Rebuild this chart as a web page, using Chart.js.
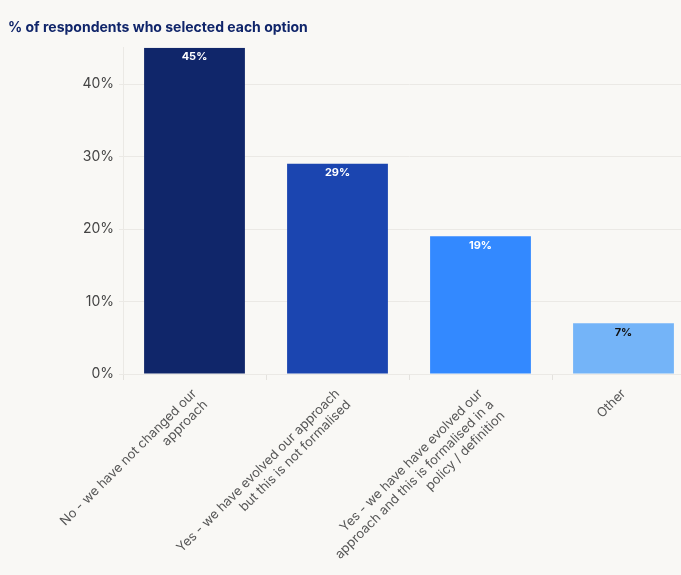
<!DOCTYPE html>
<html>
<head>
<meta charset="utf-8">
<script src="https://cdn.jsdelivr.net/npm/chart.js@4"></script>
<style>
    html, body { margin: 0; padding: 0; background: #f9f8f5; overflow: hidden; }
    .chart-wrap { position: relative; width: 700px; height: 575px; }
</style>
</head>
<body>
<div class="chart-wrap"><canvas id="optionsChart"></canvas></div>
<script>
const categories = [
    ["No - we have not changed our", "approach"],
    ["Yes - we have evolved our approach", "but this is not formalised"],
    ["Yes - we have have evolved our", "approach and this is formalised in a", "policy / definition"],
    "Other"
];
const shares = [45, 29, 19, 7];
const barColors = ["#10266a", "#1b45b0", "#3389ff", "#74b4f8"];
const labelColors = ["#ffffff", "#ffffff", "#ffffff", "#111111"];
const yTicks = [0, 10, 20, 30, 40];

// writes the value at the top of each bar
const barValueLabels = {
    id: "barValueLabels",
    afterDatasetsDraw(chart) {
        const ctx = chart.ctx;
        const meta = chart.getDatasetMeta(0);
        ctx.save();
        ctx.font = "bold 11px Inter";
        ctx.textAlign = "center";
        ctx.textBaseline = "middle";
        meta.data.forEach((bar, i) => {
            ctx.fillStyle = labelColors[i];
            ctx.fillText(shares[i] + "%", bar.x, bar.y + 9);
        });
        ctx.restore();
    }
};

const ctxBar = document.getElementById("optionsChart");
new Chart(ctxBar, {
    type: "bar",
    data: {
        labels: categories,
        datasets: [{
            data: shares,
            backgroundColor: barColors,
            borderWidth: 0,
            categoryPercentage: 1,
            barPercentage: 0.705
        }]
    },
    options: {
        responsive: true,
        maintainAspectRatio: false,
        animation: false,
        layout: { padding: { left: 8, right: 5, top: 0, bottom: 0 } },
        plugins: {
            legend: { display: false },
            tooltip: { enabled: false },
            title: {
                display: true,
                text: "% of respondents who selected each option",
                align: "start",
                color: "#10256a",
                font: { family: "Inter", size: 14, weight: "bold" },
                padding: { top: 19, bottom: 12 }
            }
        },
        scales: {
            x: {
                grid: { display: true, drawOnChartArea: false, tickLength: 6, color: "#e4e2de" },
                border: { display: false },
                ticks: {
                    color: "#555555",
                    font: { family: "Inter", size: 13 },
                    minRotation: 45,
                    maxRotation: 45,
                    autoSkip: false,
                    padding: 6
                },
                afterFit: (scale) => { scale.height = 201; }
            },
            y: {
                min: 0,
                max: 45,
                grid: { color: "#ebe9e5", tickLength: 4, drawTicks: true },
                border: { display: true, color: "#ebe9e5" },
                ticks: {
                    color: "#444444",
                    font: { family: "Inter", size: 14 },
                    padding: 5,
                    callback: (v) => v + "%"
                },
                afterBuildTicks: (scale) => {
                    scale.ticks = yTicks.map(v => ({ value: v }));
                },
                afterFit: (scale) => { scale.width = 115; }
            }
        }
    },
    plugins: [barValueLabels]
});
</script>
</body>
</html>
